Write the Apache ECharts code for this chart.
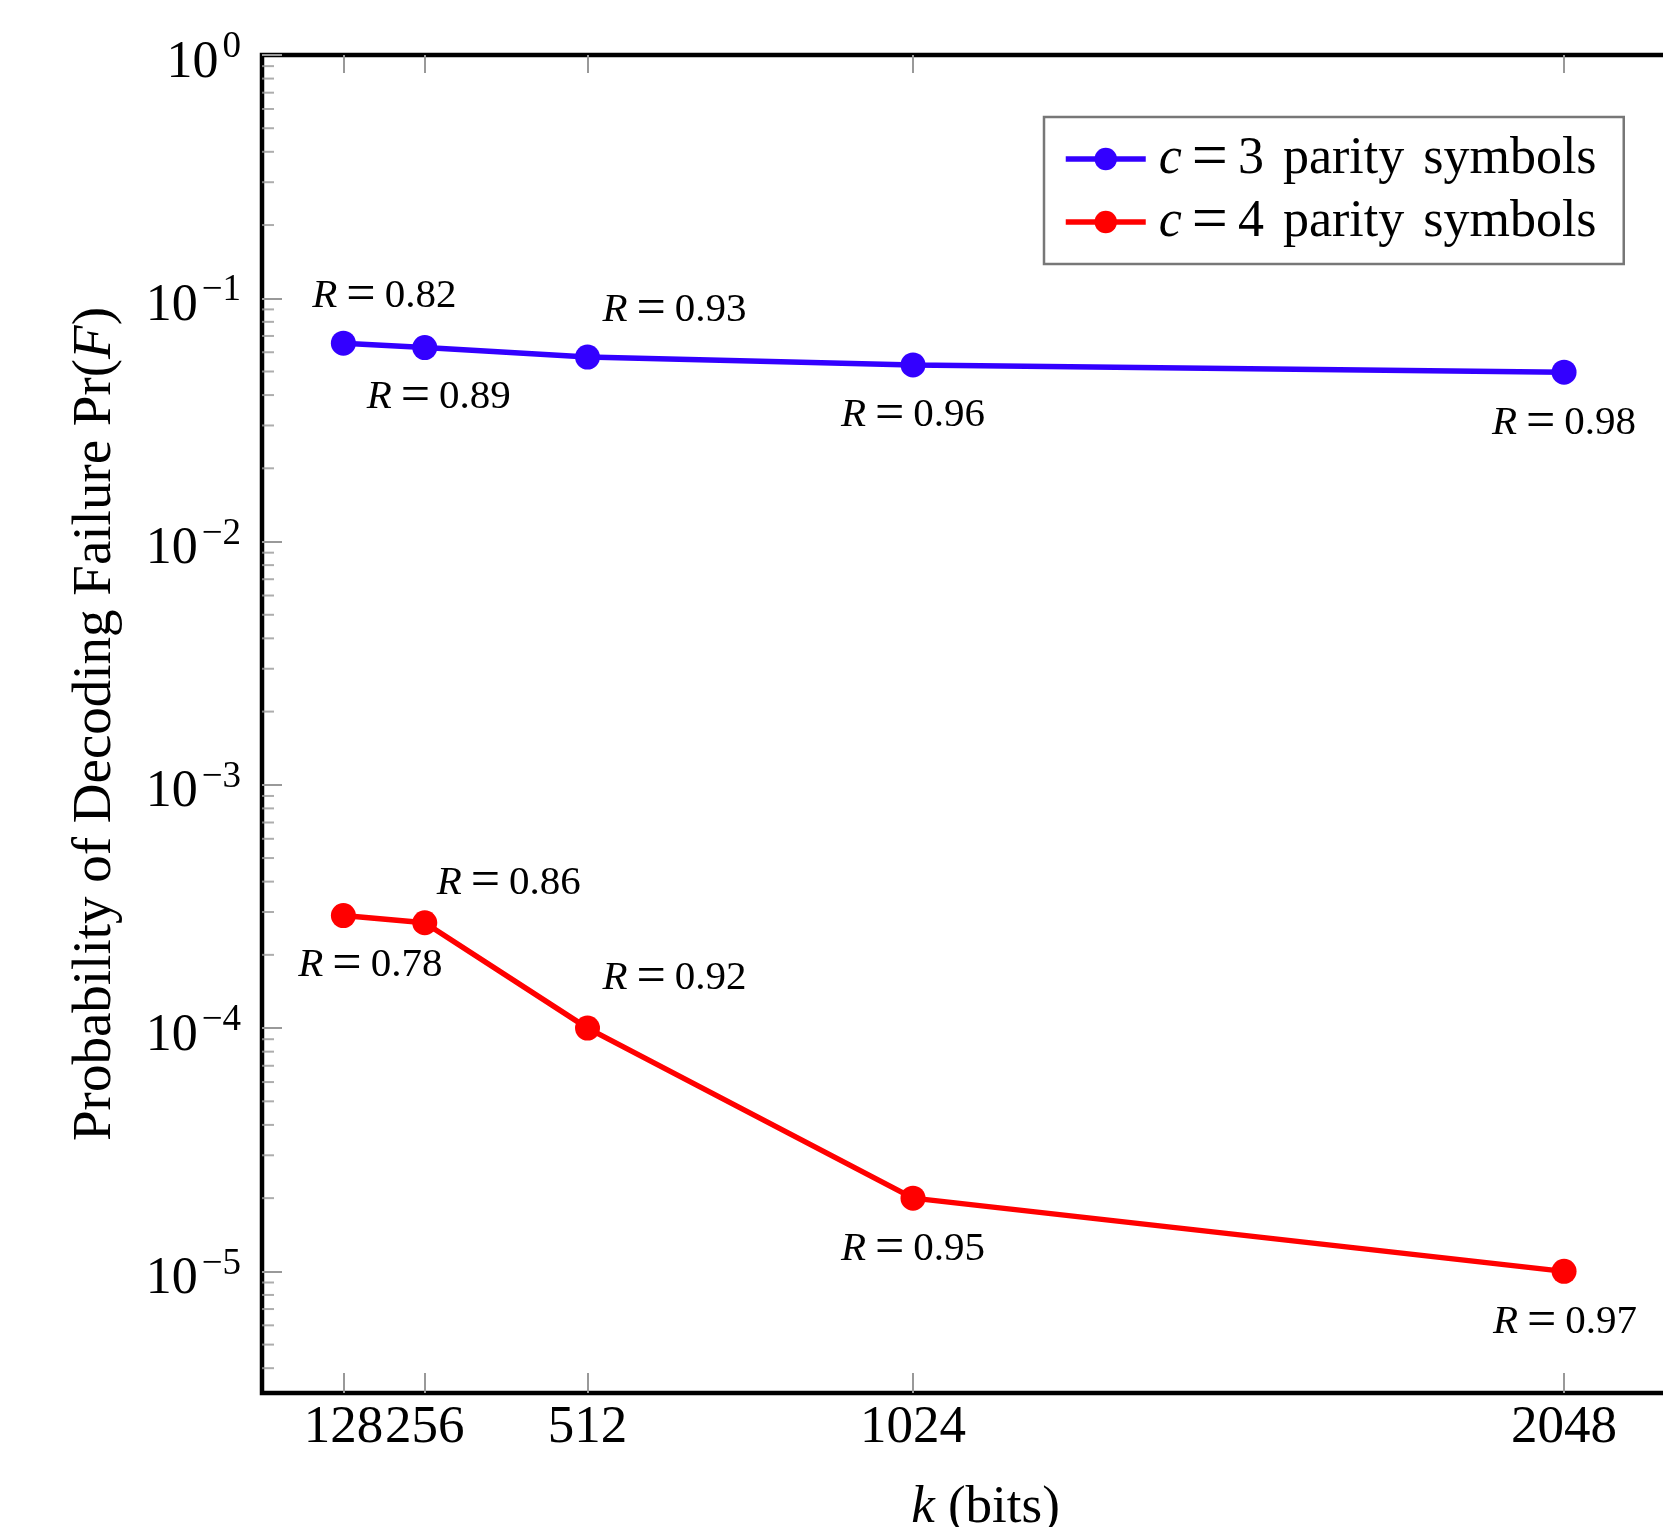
<!DOCTYPE html>
<html>
<head>
<meta charset="utf-8">
<script src="https://cdn.jsdelivr.net/npm/echarts@6/dist/echarts.min.js"></script>
<style>
html,body{margin:0;padding:0;background:#fff;}
#chart{width:1663px;height:1527px;}
</style>
</head>
<body>
<div id="chart"></div>
<script>
// ---- data ----
const kBits = [128, 256, 512, 1024, 2048];
const pfC3 = [0.0654, 0.0627, 0.0573, 0.0532, 0.0497];
const pfC4 = [2.9e-4, 2.71e-4, 1.0e-4, 2.0e-5, 1.0e-5];
const rateC3 = ['0.82', '0.89', '0.93', '0.96', '0.98'];
const rateC4 = ['0.78', '0.86', '0.92', '0.95', '0.97'];
const seriesNames = ['c = 3 parity symbols', 'c = 4 parity symbols'];
const xTickValues = [128, 256, 512, 1024, 2048];
const yMinorTickValues = [];
for (let d = -6; d <= -1; d++) {
  for (let m = 2; m <= 9; m++) yMinorTickValues.push(m * Math.pow(10, d));
}
// ---- layout (label offsets in px, from each marker centre) ----
const labelOffsetC3 = [[41, -47], [14, 50], [87, -47], [0, 50], [0, 51]];
const labelOffsetC4 = [[27, 50], [84, -40], [87, -50], [0, 51], [1, 51]];

const FONT = 'Liberation Serif';
const BLUE = '#3300ff';
const RED = '#ff0000';
const Y_MIN = Math.pow(10, -5.5);
const X_MAX = 2276;

function rLabelRich() {
  return {
    r: {fontFamily: FONT, fontSize: 41, fontStyle: 'italic', color: '#000', lineHeight: 44},
    eq: {fontFamily: FONT, fontSize: 52, color: '#000', padding: [0, 9], lineHeight: 44}
  };
}

function buildSeries(name, ys, rates, offsets, color) {
  return {
    name: name,
    type: 'line',
    xAxisIndex: 0,
    yAxisIndex: 0,
    symbol: 'circle',
    symbolSize: 25,
    color: color,
    lineStyle: {color: color, width: 5.5},
    itemStyle: {color: color},
    z: 5,
    data: kBits.map((k, i) => ({
      value: [k, ys[i]],
      label: {offset: offsets[i]}
    })),
    label: {
      show: true,
      position: 'inside',
      fontFamily: FONT,
      fontSize: 41,
      lineHeight: 44,
      color: '#000',
      formatter: p => '{r|R}{eq|=}' + rates[p.dataIndex],
      rich: rLabelRich()
    },
    emphasis: {disabled: true}
  };
}

const chart = echarts.init(document.getElementById('chart'), null, {renderer: 'canvas'});
chart.setOption({
  backgroundColor: '#fff',
  animation: false,
  grid: {
    left: 262, top: 55, bottom: 134, right: -46,
    show: true, borderColor: '#000', borderWidth: 4.5,
    backgroundColor: 'transparent',
    outerBoundsMode: 'none'
  },
  legend: {
    orient: 'vertical',
    left: 1044, top: 117,
    padding: [10, 25, 10, 19],
    itemWidth: 80, itemHeight: 28, itemGap: -1,
    borderColor: '#777', borderWidth: 2.5,
    backgroundColor: '#fff',
    data: seriesNames,
    lineStyle: {width: 5.5},
    formatter: n => '{i|c}{eq|=}' + n.charAt(4) + '{sp| }parity{sp| }symbols',
    textStyle: {
      fontFamily: FONT, fontSize: 52, color: '#000', lineHeight: 50,
      width: 440, padding: [0, 0, 0, 8],
      rich: {
        i: {fontFamily: FONT, fontSize: 52, fontStyle: 'italic', color: '#000', lineHeight: 50},
        eq: {fontFamily: FONT, fontSize: 64, color: '#000', padding: [0, 10], lineHeight: 50},
        sp: {fontFamily: FONT, fontSize: 52, color: '#000', padding: [0, 3], lineHeight: 50}
      }
    }
  },
  xAxis: [{
    type: 'value', position: 'bottom', min: 0, max: X_MAX,
    axisLine: {show: false},
    splitLine: {show: false},
    axisTick: {show: true, inside: true, length: 20, customValues: xTickValues,
      lineStyle: {color: '#999', width: 2}},
    axisLabel: {customValues: xTickValues, fontFamily: FONT, fontSize: 53, color: '#000', margin: 9,
      formatter: v => String(v)},
    name: '{i|k} (bits)',
    nameLocation: 'middle', nameGap: 89,
    nameTextStyle: {fontFamily: FONT, fontSize: 53, color: '#000',
      rich: {i: {fontFamily: FONT, fontSize: 53, fontStyle: 'italic', color: '#000'}}}
  }, {
    type: 'value', position: 'top', min: 0, max: X_MAX,
    axisLine: {show: false},
    splitLine: {show: false},
    axisTick: {show: true, inside: true, length: 18, customValues: xTickValues,
      lineStyle: {color: '#999', width: 2}},
    axisLabel: {show: false}
  }],
  yAxis: [{
    type: 'log', logBase: 10, min: Y_MIN, max: 1,
    axisLine: {show: false},
    splitLine: {show: false},
    minorTick: {show: false},
    axisTick: {show: true, inside: true, length: 20, lineStyle: {color: '#999', width: 2}},
    axisLabel: {
      showMinLabel: false,
      margin: 21,
      padding: [16, 0, 0, 0],
      formatter: v => {
        const e = Math.round(Math.log10(v));
        return '{b|10}{s|' + (e < 0 ? '\u2212' + (-e) : String(e)) + '}';
      },
      rich: {
        b: {fontFamily: FONT, fontSize: 52, color: '#000', lineHeight: 68},
        s: {fontFamily: FONT, fontSize: 37, color: '#000', lineHeight: 37, verticalAlign: 'top', padding: [0, 0, 0, 4]}
      }
    },
    name: 'Probability of Decoding Failure Pr({i|F})',
    nameLocation: 'middle', nameGap: 139,
    nameTextStyle: {fontFamily: FONT, fontSize: 55, color: '#000',
      rich: {i: {fontFamily: FONT, fontSize: 55, fontStyle: 'italic', color: '#000'}}}
  }],
  series: [
    buildSeries(seriesNames[0], pfC3, rateC3, labelOffsetC3, BLUE),
    buildSeries(seriesNames[1], pfC4, rateC4, labelOffsetC4, RED),
    {
      name: 'minorTicks',
      type: 'scatter',
      xAxisIndex: 0, yAxisIndex: 0,
      symbol: 'rect', symbolSize: [12, 2], symbolOffset: [6, 0],
      itemStyle: {color: '#999'},
      silent: true, z: 1,
      data: yMinorTickValues.filter(v => v >= Y_MIN && v <= 1).map(v => [0, v]),
      emphasis: {disabled: true}
    }
  ]
});
</script>
</body>
</html>
